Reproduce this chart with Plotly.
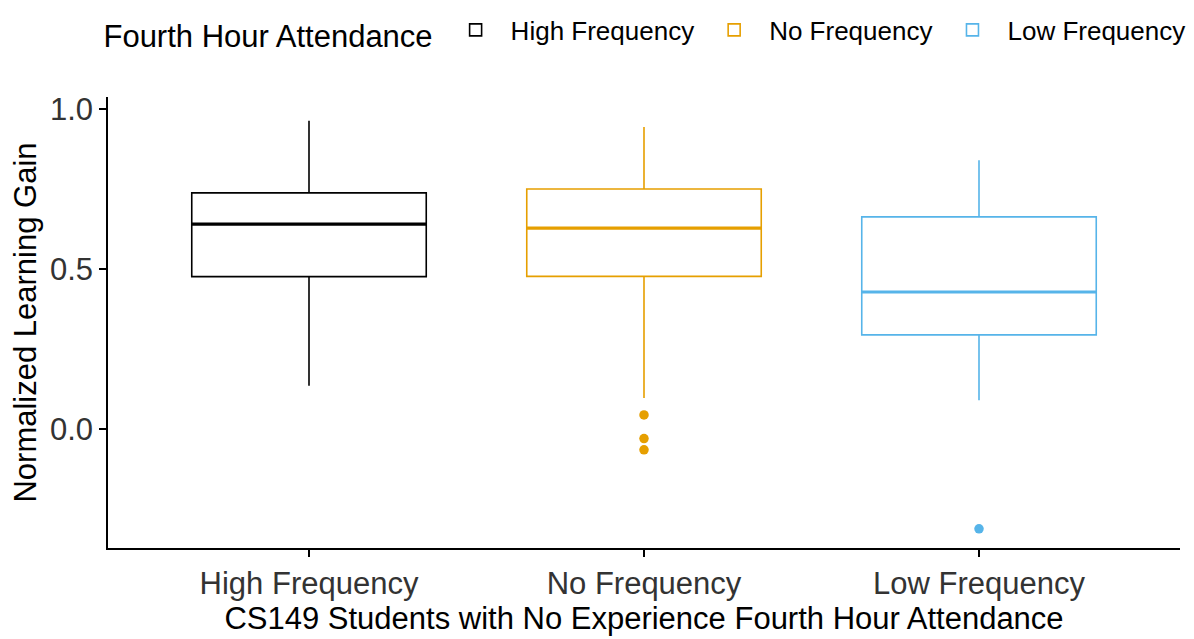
import plotly.graph_objects as go

categories = ["High Frequency", "No Frequency", "Low Frequency"]
colors = ["#000000", "#E69F00", "#56B4E9"]
q1 = [0.476, 0.477, 0.294]
median = [0.640, 0.628, 0.428]
q3 = [0.738, 0.750, 0.663]
lower_whisker = [0.135, 0.097, 0.090]
upper_whisker = [0.963, 0.944, 0.840]
outliers = [[], [0.044, -0.030, -0.065], [-0.312]]

box_width = 0.7
FONT = "Liberation Sans, Arial, sans-serif"

fig = go.Figure()
for i, cat in enumerate(categories):
    fig.add_trace(go.Box(
        x=[i], q1=[q1[i]], median=[median[i]], q3=[q3[i]],
        lowerfence=[lower_whisker[i]], upperfence=[upper_whisker[i]],
        name=cat, width=box_width, whiskerwidth=0,
        line=dict(color=colors[i], width=1.6), fillcolor="white",
        boxpoints=False, legendgroup=cat, showlegend=True,
    ))
for i, cat in enumerate(categories):
    fig.add_trace(go.Scatter(
        x=[i - box_width / 2, i + box_width / 2], y=[median[i], median[i]],
        mode="lines", line=dict(color=colors[i], width=3.2),
        showlegend=False, hoverinfo="skip", legendgroup=cat,
    ))
    if outliers[i]:
        fig.add_trace(go.Scatter(
            x=[i] * len(outliers[i]), y=outliers[i], mode="markers",
            marker=dict(color=colors[i], size=9.5),
            showlegend=False, legendgroup=cat,
        ))

fig.update_layout(
    width=1186, height=631,
    margin=dict(l=100, r=14, t=89, b=91),
    paper_bgcolor="white", plot_bgcolor="white",
    font=dict(family=FONT, color="#1a1a1a", size=30),
    legend=dict(
        orientation="h", xref="container", yref="container",
        x=0.0788, y=0.962, xanchor="left", yanchor="middle",
        title=dict(text="Fourth Hour Attendance", side="left",
                   font=dict(size=31, color="#000000")),
        font=dict(size=26, color="#000000"),
        itemwidth=60,
    ),
    xaxis=dict(
        range=[-0.6, 2.6], tickmode="array", tickvals=[0, 1, 2], ticktext=categories,
        showline=True, linecolor="black", linewidth=1.5,
        ticks="outside", ticklen=7, tickcolor="black", tickwidth=1.5,
        showgrid=False, zeroline=False,
        tickfont=dict(size=31, color="#333333"),
        title=dict(text="CS149 Students with No Experience Fourth Hour Attendance",
                   font=dict(size=31, color="#000000"), standoff=5),
        automargin=False,
    ),
    yaxis=dict(
        range=[-0.372, 1.0375], tickvals=[0.0, 0.5, 1.0], ticktext=["0.0", "0.5", "1.0"],
        showline=True, linecolor="black", linewidth=1.5,
        ticks="outside", ticklen=7, tickcolor="black", tickwidth=1.5,
        showgrid=False, zeroline=False,
        tickfont=dict(size=31, color="#333333"),
        title=dict(text="Normalized Learning Gain",
                   font=dict(size=31, color="#000000"), standoff=6),
        automargin=False,
    ),
)

fig.write_html("out.html")
